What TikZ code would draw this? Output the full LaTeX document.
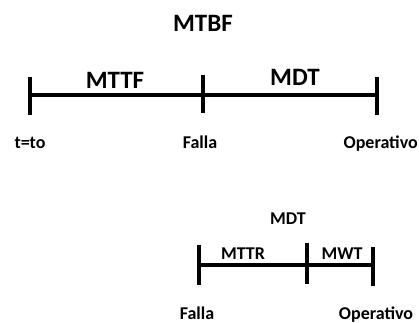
\documentclass[tikz,border=0pt]{standalone}
\usepackage{fontspec}
\setmainfont{Carlito}
\usepackage{tikz}
\usetikzlibrary{positioning}
\tikzset{
    biglabel/.style={anchor=base, inner sep=0pt, font=\fontsize{25}{29}\selectfont\bfseries},
    smalllabel/.style={anchor=base, inner sep=0pt, font=\fontsize{18}{21}\selectfont\bfseries},
    timeline/.style={line width=3.2pt, black},
    tickmark/.style={line width=3.2pt, black}
}

\begin{document}
\begin{tikzpicture}[x=1pt, y=-1pt]
    \useasboundingbox (0,0) rectangle (419,322);

    % Top timeline: MTBF = MTTF + MDT
    \coordinate (start) at (30,95);
    \coordinate (fail) at (203,95);
    \coordinate (oper) at (377,95);
    \draw[timeline] (start) -- (fail) -- (oper);
    \draw[tickmark] ([yshift=18pt]start) -- ([yshift=-20pt]start);
    \draw[tickmark] ([yshift=20pt]fail) -- ([yshift=-18pt]fail);
    \draw[tickmark] ([yshift=18pt]oper) -- ([yshift=-20pt]oper);

    \node[biglabel] (mtbf) at (203,31) {MTBF};
    \node[biglabel] (mttf) at (115,88) {MTTF};
    \node[biglabel] (mdt) at (295,85) {MDT};
    \node[smalllabel] (tzero) at (30,148) {t=to};
    \node[smalllabel] (falla) at (200,148) {Falla};
    \node[smalllabel, anchor=base east] (operativo) at (418,148) {Operativo};

    % Bottom timeline: MDT = MTTR + MWT
    \coordinate (fail2) at (199,265);
    \coordinate (repair) at (307,265);
    \coordinate (oper2) at (373,265);
    \draw[timeline] (fail2) -- (repair) -- (oper2);
    \draw[tickmark] ([yshift=20pt]fail2) -- ([yshift=-20pt]fail2);
    \draw[tickmark] ([yshift=22pt]repair) -- ([yshift=-19pt]repair);
    \draw[tickmark] ([yshift=18pt]oper2) -- ([yshift=-21pt]oper2);

    \node[smalllabel] (mdt2) at (288,224) {MDT};
    \node[smalllabel] (mttr) at (243,259) {MTTR};
    \node[smalllabel] (mwt) at (342,259) {MWT};
    \node[smalllabel] (falla2) at (197,319) {Falla};
    \node[smalllabel] (operativo2) at (376,319) {Operativo};
\end{tikzpicture}
\end{document}
